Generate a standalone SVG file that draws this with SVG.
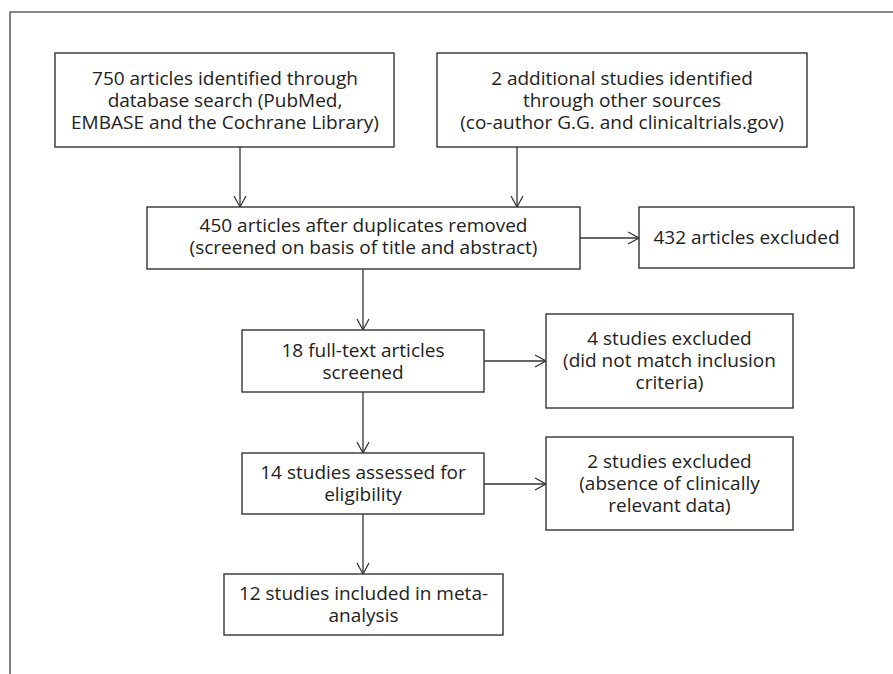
<svg xmlns="http://www.w3.org/2000/svg" width="893" height="674" viewBox="0 0 893 674">
<style>
.box{fill:#fff;stroke:#333;stroke-width:1.4}
.t{font-family:"Open Sans","Noto Sans",sans-serif;font-size:19px;fill:#222;text-anchor:middle}
.c{stroke:#333;stroke-width:1.3;fill:none}
</style>
<defs>
<marker id="arr" markerWidth="14" markerHeight="14" refX="12" refY="7" orient="auto" markerUnits="userSpaceOnUse" viewBox="0 0 14 14">
<path d="M1,1 L12,7 L1,13" fill="none" stroke="#333" stroke-width="1.3"/>
</marker>
</defs>
<rect width="893" height="674" fill="#fff"/>
<path d="M10,674 V12 H893" fill="none" stroke="#666" stroke-width="1.6"/>
<g id="connectors">
<line class="c" x1="240" y1="147" x2="240" y2="207" marker-end="url(#arr)"/>
<line class="c" x1="517" y1="147" x2="517" y2="207" marker-end="url(#arr)"/>
<line class="c" x1="580" y1="238" x2="639" y2="238" marker-end="url(#arr)"/>
<line class="c" x1="363" y1="269" x2="363" y2="330" marker-end="url(#arr)"/>
<line class="c" x1="484" y1="361" x2="546" y2="361" marker-end="url(#arr)"/>
<line class="c" x1="363" y1="392" x2="363" y2="453" marker-end="url(#arr)"/>
<line class="c" x1="484" y1="484" x2="546" y2="484" marker-end="url(#arr)"/>
<line class="c" x1="363" y1="514" x2="363" y2="574" marker-end="url(#arr)"/>
</g>
<g id="n750">
<rect class="box" x="55" y="53" width="339" height="94"/>
<text class="t" x="225" y="85">750 articles identified through</text>
<text class="t" x="225" y="107">database search (PubMed,</text>
<text class="t" x="225" y="129">EMBASE and the Cochrane Library)</text>
</g>
<g id="n2add">
<rect class="box" x="437" y="53" width="370" height="94"/>
<text class="t" x="622" y="85">2 additional studies identified</text>
<text class="t" x="622" y="107">through other sources</text>
<text class="t" x="622" y="129">(co-author G.G. and clinicaltrials.gov)</text>
</g>
<g id="n450">
<rect class="box" x="147" y="207" width="433" height="62"/>
<text class="t" x="363.5" y="232">450 articles after duplicates removed</text>
<text class="t" x="363.5" y="254">(screened on basis of title and abstract)</text>
</g>
<g id="n432">
<rect class="box" x="639" y="207" width="215" height="61"/>
<text class="t" x="746.5" y="244">432 articles excluded</text>
</g>
<g id="n18">
<rect class="box" x="242" y="330" width="242" height="62"/>
<text class="t" x="363" y="357">18 full-text articles</text>
<text class="t" x="363" y="379">screened</text>
</g>
<g id="n4">
<rect class="box" x="546" y="314" width="247" height="94"/>
<text class="t" x="669.5" y="345">4 studies excluded</text>
<text class="t" x="669.5" y="367">(did not match inclusion</text>
<text class="t" x="669.5" y="389">criteria)</text>
</g>
<g id="n14">
<rect class="box" x="242" y="453" width="242" height="61"/>
<text class="t" x="363" y="479">14 studies assessed for</text>
<text class="t" x="363" y="501">eligibility</text>
</g>
<g id="n2excl">
<rect class="box" x="546" y="437" width="247" height="93"/>
<text class="t" x="669.5" y="468">2 studies excluded</text>
<text class="t" x="669.5" y="490">(absence of clinically</text>
<text class="t" x="669.5" y="512">relevant data)</text>
</g>
<g id="n12">
<rect class="box" x="224" y="574" width="279" height="61"/>
<text class="t" x="363.5" y="600">12 studies included in meta-</text>
<text class="t" x="363.5" y="622">analysis</text>
</g>
</svg>
